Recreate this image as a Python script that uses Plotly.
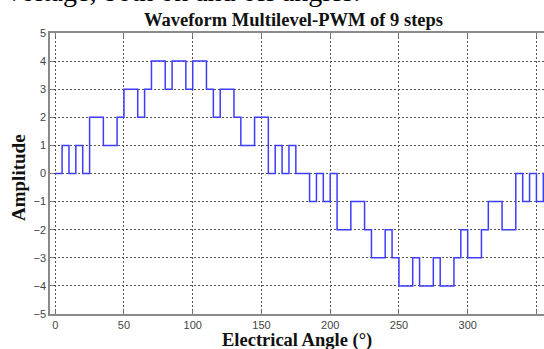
import plotly.graph_objects as go

# Switching angles (degrees) where the output level changes, and level held after each angle
angles = [0, 5, 10, 15, 20, 25, 35, 45, 50, 60, 65, 70, 80, 85, 95, 100, 110, 115, 120,
          130, 135, 145, 155, 160, 165, 170, 175, 185, 190, 195, 200, 205, 215, 225, 230,
          240, 245, 250, 260, 265, 275, 280, 290, 295, 300, 310, 315, 325, 335, 340, 345,
          350, 355, 360]
levels = [0, 1, 0, 1, 0, 2, 1, 2, 3, 2, 3, 4, 3, 4, 3, 4, 3, 2, 3,
          2, 1, 2, 0, 1, 0, 1, 0, -1, 0, -1, 0, -2, -1, -2, -3,
          -2, -3, -4, -3, -4, -3, -4, -3, -2, -3, -2, -1, -2, 0, -1, 0,
          -1, 0, 0]

x_ticks = [0, 50, 100, 150, 200, 250, 300, 350]
y_ticks = [-5, -4, -3, -2, -1, 0, 1, 2, 3, 4, 5]

W, H = 544, 349
ML, MR, MT, MB = 50, 0, 33, 35
pw = W - ML - MR
ph = H - MT - MB

def px(xp):
    return (xp - ML) / pw

def py(yp):
    return (H - MB - yp) / ph

fig = go.Figure()
fig.add_trace(go.Scatter(
    x=angles, y=levels, mode="lines", line_shape="hv",
    line=dict(color="#3d3dff", width=1.5), showlegend=False, hoverinfo="skip"))

grid = dict(showgrid=True, gridcolor="#555555", gridwidth=1, griddash="2px,2px",
            zeroline=False, ticks="inside", ticklen=4, tickcolor="#777777",
            linecolor="#8a8a8a", linewidth=1.5,
            tickfont=dict(family="Liberation Sans", size=11, color="#444444"))

fig.update_xaxes(range=[-3.8, 355.5], tickvals=x_ticks, showline=True, mirror="ticks",
                 **grid)
fig.update_yaxes(range=[-5, 5], tickvals=y_ticks, showline=True, mirror=False, **grid)

fig.update_layout(
    width=W, height=H, margin=dict(l=ML, r=MR, t=MT, b=MB),
    plot_bgcolor="white", paper_bgcolor="white",
    annotations=[
        dict(text="voltage, both on and off angles.", x=px(5), y=py(-8), xref="paper",
             yref="paper", xanchor="left", yanchor="middle", showarrow=False,
             font=dict(family="Liberation Serif", size=28, color="black")),
        dict(text="<b>Waveform Multilevel-PWM of 9 steps</b>", x=px(293), y=py(20),
             xref="paper", yref="paper", xanchor="center", yanchor="middle",
             showarrow=False, font=dict(family="Liberation Serif", size=18.5, color="#111111")),
        dict(text="<b>Electrical Angle (°)</b>", x=px(297), y=py(340.5),
             xref="paper", yref="paper", xanchor="center", yanchor="middle",
             showarrow=False, font=dict(family="Liberation Serif", size=18.5, color="#111111")),
        dict(text="<b>Amplitude</b>", x=px(18), y=py(178), textangle=-90,
             xref="paper", yref="paper", xanchor="center", yanchor="middle",
             showarrow=False, font=dict(family="Liberation Serif", size=19, color="#111111")),
    ],
)

fig.write_html("out.html")
